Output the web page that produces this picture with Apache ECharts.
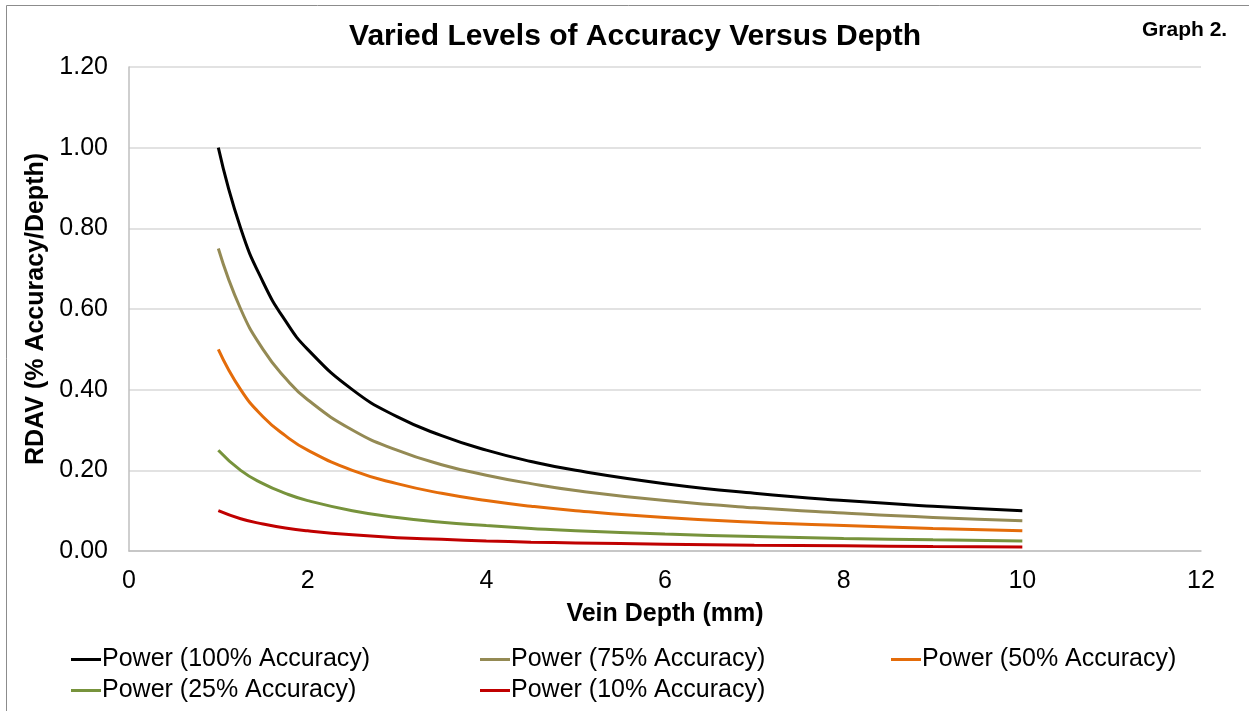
<!DOCTYPE html>
<html>
<head>
<meta charset="utf-8">
<title>Varied Levels of Accuracy Versus Depth</title>
<script src="https://cdn.jsdelivr.net/npm/echarts@6/dist/echarts.min.js"></script>
<style>
  html, body { margin: 0; padding: 0; background: #fff; }
  #chart { width: 1249px; height: 711px; }
</style>
</head>
<body>
<div id="chart"></div>
<script>
// vein depth (mm)
const depth = [1, 1.25, 1.5, 1.75, 2, 2.5, 3, 3.5, 4, 4.5, 5, 6, 7, 8, 9, 10];

// RDAV values
const acc100 = [1.000, 0.800, 0.667, 0.571, 0.500, 0.400, 0.333, 0.286, 0.250, 0.222, 0.200, 0.167, 0.143, 0.125, 0.111, 0.100];
const acc75 = [0.750, 0.600, 0.500, 0.429, 0.375, 0.300, 0.250, 0.214, 0.188, 0.167, 0.150, 0.125, 0.107, 0.094, 0.083, 0.075];
const acc50 = [0.500, 0.400, 0.333, 0.286, 0.250, 0.200, 0.167, 0.143, 0.125, 0.111, 0.100, 0.083, 0.071, 0.063, 0.056, 0.050];
const acc25 = [0.250, 0.200, 0.167, 0.143, 0.125, 0.100, 0.083, 0.071, 0.063, 0.056, 0.050, 0.042, 0.036, 0.031, 0.028, 0.025];
const acc10 = [0.100, 0.080, 0.067, 0.057, 0.050, 0.040, 0.033, 0.029, 0.025, 0.022, 0.020, 0.017, 0.014, 0.013, 0.011, 0.010];

const seriesNames = [
  "Power (100% Accuracy)",
  "Power (75% Accuracy)",
  "Power (50% Accuracy)",
  "Power (25% Accuracy)",
  "Power (10% Accuracy)",
];
const seriesValues = [acc100, acc75, acc50, acc25, acc10];
const colors = ["#000000", "#948a54", "#e46c0a", "#77933c", "#c00000"];

const FONT = "Liberation Sans, Arial, sans-serif";

const chart = echarts.init(document.getElementById("chart"));

const legendBase = {
  orient: "vertical",
  top: 647,
  padding: 0,
  itemWidth: 30,
  itemHeight: 3,
  itemGap: 6,
  icon: "rect",
  textStyle: { fontFamily: FONT, fontSize: 25, color: "#000", padding: [0, 0, 0, -4] },
};

const option = {
  backgroundColor: "#fff",
  animation: false,
  color: colors,
  title: [
    {
      text: "Varied Levels of Accuracy Versus Depth",
      left: 630,
      textAlign: "center",
      top: 17,
      textStyle: { fontFamily: FONT, fontSize: 30, fontWeight: "bold", color: "#000" },
    },
    {
      text: "Graph 2.",
      left: 1137,
      top: 15,
      textStyle: { fontFamily: FONT, fontSize: 21, fontWeight: "bold", color: "#000" },
    },
  ],
  graphic: [
    {
      type: "rect",
      shape: { x: 6.5, y: 5.5, width: 1400, height: 900 },
      style: { fill: "none", stroke: "#8c8c8c", lineWidth: 1 },
      silent: true,
    },
  ],
  legend: [
    Object.assign({}, legendBase, { left: 71, data: [seriesNames[0], seriesNames[3]] }),
    Object.assign({}, legendBase, { left: 480, data: [seriesNames[1], seriesNames[4]] }),
    Object.assign({}, legendBase, { left: 891, data: [seriesNames[2]] }),
  ],
  grid: { left: 129, right: 48, top: 67, bottom: 160 },
  xAxis: {
    type: "value",
    min: 0,
    max: 12,
    interval: 2,
    name: "Vein Depth (mm)",
    nameLocation: "middle",
    nameGap: 51,
    nameTextStyle: { fontFamily: FONT, fontSize: 25, fontWeight: "bold", color: "#000" },
    axisLine: { lineStyle: { color: "#bfbfbf", width: 1.5 } },
    axisTick: { show: false },
    axisLabel: { fontFamily: FONT, fontSize: 25, color: "#000", margin: 18 },
    splitLine: { show: false },
  },
  yAxis: {
    type: "value",
    min: 0,
    max: 1.2,
    interval: 0.2,
    name: "RDAV (% Accuracy/Depth)",
    nameLocation: "middle",
    nameGap: 74,
    nameTextStyle: { fontFamily: FONT, fontSize: 25, fontWeight: "bold", color: "#000" },
    axisLine: { show: true, lineStyle: { color: "#bfbfbf", width: 1.5 } },
    axisTick: { show: false },
    axisLabel: {
      fontFamily: FONT,
      fontSize: 25,
      color: "#000",
      margin: 21,
      formatter: (v) => v.toFixed(2),
    },
    splitLine: { lineStyle: { color: "#d9d9d9", width: 1.5 } },
  },
  series: seriesNames.map((name, i) => ({
    name,
    type: "line",
    smooth: 0.5,
    symbol: "none",
    data: depth.map((d, j) => [d, seriesValues[i][j]]),
    lineStyle: { color: colors[i], width: 3 },
  })),
};

chart.setOption(option);
</script>
</body>
</html>
